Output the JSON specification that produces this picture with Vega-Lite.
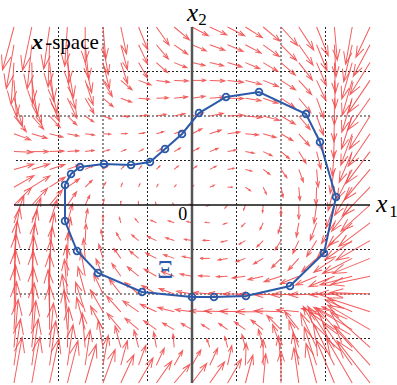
{
"$schema":"https://vega.github.io/schema/vega-lite/v6.json",
"width":356,"height":356,
"autosize":{"type":"none"},
"padding":{"left":14,"top":27,"right":27,"bottom":2},
"background":"white",
"config":{"view":{"stroke":null}},
"datasets":{
"grid":[{"g":-3},{"g":-2},{"g":-1},{"g":1},{"g":2},{"g":3}],
"zero":[{"g":0}],
"curve":[{"o":1,"x":-2.854,"y":-0.36},{"o":2,"x":-2.854,"y":0.449},{"o":3,"x":-2.719,"y":0.697},{"o":4,"x":-2.517,"y":0.854},{"o":5,"x":-1.978,"y":0.921},{"o":6,"x":-1.371,"y":0.899},{"o":7,"x":-0.944,"y":0.966},{"o":8,"x":-0.607,"y":1.258},{"o":9,"x":-0.225,"y":1.596},{"o":10,"x":0.157,"y":2.067},{"o":11,"x":0.764,"y":2.427},{"o":12,"x":1.506,"y":2.539},{"o":13,"x":2.562,"y":2.045},{"o":14,"x":2.876,"y":1.416},{"o":15,"x":3.236,"y":0.18},{"o":16,"x":2.966,"y":-1.079},{"o":17,"x":2.202,"y":-1.82},{"o":18,"x":1.213,"y":-2.045},{"o":19,"x":0.494,"y":-2.067},{"o":20,"x":0,"y":-2.067},{"o":21,"x":-1.124,"y":-1.955},{"o":22,"x":-2.112,"y":-1.528},{"o":23,"x":-2.584,"y":-1.034}],
"field":[
{"x":-4,"y":4,"d":195,"m":1.0},{"x":-3.6,"y":4,"d":192,"m":1.0},{"x":-3.2,"y":4,"d":188,"m":0.95},{"x":-2.8,"y":4,"d":184,"m":0.88},{"x":-2.4,"y":4,"d":180,"m":0.8},{"x":-2,"y":4,"d":175,"m":0.72},{"x":-1.6,"y":4,"d":168,"m":0.62},{"x":-1.2,"y":4,"d":158,"m":0.55},{"x":-0.8,"y":4,"d":145,"m":0.5},{"x":-0.4,"y":4,"d":130,"m":0.45},{"x":0,"y":4,"d":118,"m":0.42},{"x":0.4,"y":4,"d":115,"m":0.42},{"x":0.8,"y":4,"d":117,"m":0.43},{"x":1.2,"y":4,"d":122,"m":0.45},{"x":1.6,"y":4,"d":130,"m":0.5},{"x":2,"y":4,"d":138,"m":0.56},{"x":2.4,"y":4,"d":147,"m":0.62},{"x":2.8,"y":4,"d":158,"m":0.7},{"x":3.2,"y":4,"d":175,"m":0.75},{"x":3.6,"y":4,"d":190,"m":0.85},{"x":4,"y":4,"d":205,"m":0.75},
{"x":-4,"y":3.6,"d":190,"m":1.0},{"x":-3.6,"y":3.6,"d":186,"m":1.0},{"x":-3.2,"y":3.6,"d":182,"m":0.95},{"x":-2.8,"y":3.6,"d":178,"m":0.87},{"x":-2.4,"y":3.6,"d":174,"m":0.78},{"x":-2,"y":3.6,"d":170,"m":0.68},{"x":-1.6,"y":3.6,"d":165,"m":0.58},{"x":-1.2,"y":3.6,"d":155,"m":0.48},{"x":-0.8,"y":3.6,"d":140,"m":0.42},{"x":-0.4,"y":3.6,"d":125,"m":0.37},{"x":0,"y":3.6,"d":113,"m":0.35},{"x":0.4,"y":3.6,"d":110,"m":0.36},{"x":0.8,"y":3.6,"d":113,"m":0.38},{"x":1.2,"y":3.6,"d":118,"m":0.4},{"x":1.6,"y":3.6,"d":126,"m":0.45},{"x":2,"y":3.6,"d":135,"m":0.5},{"x":2.4,"y":3.6,"d":145,"m":0.56},{"x":2.8,"y":3.6,"d":158,"m":0.63},{"x":3.2,"y":3.6,"d":177,"m":0.72},{"x":3.6,"y":3.6,"d":193,"m":0.85},{"x":4,"y":3.6,"d":208,"m":0.8},
{"x":-4,"y":3.2,"d":184,"m":0.95},{"x":-3.6,"y":3.2,"d":179,"m":0.93},{"x":-3.2,"y":3.2,"d":174,"m":0.88},{"x":-2.8,"y":3.2,"d":170,"m":0.8},{"x":-2.4,"y":3.2,"d":168,"m":0.7},{"x":-2,"y":3.2,"d":166,"m":0.6},{"x":-1.6,"y":3.2,"d":162,"m":0.5},{"x":-1.2,"y":3.2,"d":150,"m":0.4},{"x":-0.8,"y":3.2,"d":132,"m":0.34},{"x":-0.4,"y":3.2,"d":112,"m":0.31},{"x":0,"y":3.2,"d":103,"m":0.3},{"x":0.4,"y":3.2,"d":103,"m":0.32},{"x":0.8,"y":3.2,"d":107,"m":0.34},{"x":1.2,"y":3.2,"d":113,"m":0.35},{"x":1.6,"y":3.2,"d":121,"m":0.38},{"x":2,"y":3.2,"d":131,"m":0.43},{"x":2.4,"y":3.2,"d":142,"m":0.5},{"x":2.8,"y":3.2,"d":157,"m":0.56},{"x":3.2,"y":3.2,"d":178,"m":0.68},{"x":3.6,"y":3.2,"d":196,"m":0.85},{"x":4,"y":3.2,"d":212,"m":0.85},
{"x":-4,"y":2.8,"d":176,"m":0.82},{"x":-3.6,"y":2.8,"d":171,"m":0.8},{"x":-3.2,"y":2.8,"d":167,"m":0.75},{"x":-2.8,"y":2.8,"d":164,"m":0.68},{"x":-2.4,"y":2.8,"d":162,"m":0.58},{"x":-2,"y":2.8,"d":150,"m":0.42},{"x":-1.6,"y":2.8,"d":130,"m":0.33},{"x":-1.2,"y":2.8,"d":110,"m":0.3},{"x":-0.8,"y":2.8,"d":98,"m":0.3},{"x":-0.4,"y":2.8,"d":92,"m":0.32},{"x":0,"y":2.8,"d":90,"m":0.32},{"x":0.4,"y":2.8,"d":92,"m":0.34},{"x":0.8,"y":2.8,"d":97,"m":0.36},{"x":1.2,"y":2.8,"d":104,"m":0.37},{"x":1.6,"y":2.8,"d":112,"m":0.37},{"x":2,"y":2.8,"d":123,"m":0.39},{"x":2.4,"y":2.8,"d":138,"m":0.43},{"x":2.8,"y":2.8,"d":155,"m":0.5},{"x":3.2,"y":2.8,"d":178,"m":0.62},{"x":3.6,"y":2.8,"d":196,"m":0.82},{"x":4,"y":2.8,"d":214,"m":0.88},
{"x":-4,"y":2.4,"d":163,"m":0.65},{"x":-3.6,"y":2.4,"d":159,"m":0.62},{"x":-3.2,"y":2.4,"d":157,"m":0.57},{"x":-2.8,"y":2.4,"d":155,"m":0.5},{"x":-2.4,"y":2.4,"d":150,"m":0.4},{"x":-2,"y":2.4,"d":130,"m":0.3},{"x":-1.6,"y":2.4,"d":110,"m":0.26},{"x":-1.2,"y":2.4,"d":95,"m":0.25},{"x":-0.8,"y":2.4,"d":88,"m":0.27},{"x":-0.4,"y":2.4,"d":84,"m":0.3},{"x":0,"y":2.4,"d":82,"m":0.3},{"x":0.4,"y":2.4,"d":85,"m":0.33},{"x":0.8,"y":2.4,"d":91,"m":0.36},{"x":1.2,"y":2.4,"d":99,"m":0.36},{"x":1.6,"y":2.4,"d":109,"m":0.35},{"x":2,"y":2.4,"d":124,"m":0.37},{"x":2.4,"y":2.4,"d":140,"m":0.42},{"x":2.8,"y":2.4,"d":160,"m":0.48},{"x":3.2,"y":2.4,"d":180,"m":0.6},{"x":3.6,"y":2.4,"d":197,"m":0.8},{"x":4,"y":2.4,"d":215,"m":0.88},
{"x":-4,"y":2,"d":142,"m":0.45},{"x":-3.6,"y":2,"d":138,"m":0.4},{"x":-3.2,"y":2,"d":137,"m":0.35},{"x":-2.8,"y":2,"d":134,"m":0.29},{"x":-2.4,"y":2,"d":125,"m":0.23},{"x":-2,"y":2,"d":110,"m":0.2},{"x":-1.6,"y":2,"d":95,"m":0.19},{"x":-1.2,"y":2,"d":85,"m":0.2},{"x":-0.8,"y":2,"d":80,"m":0.22},{"x":-0.4,"y":2,"d":77,"m":0.25},{"x":0,"y":2,"d":75,"m":0.27},{"x":0.4,"y":2,"d":79,"m":0.31},{"x":0.8,"y":2,"d":87,"m":0.36},{"x":1.2,"y":2,"d":95,"m":0.38},{"x":1.6,"y":2,"d":105,"m":0.38},{"x":2,"y":2,"d":120,"m":0.37},{"x":2.4,"y":2,"d":140,"m":0.4},{"x":2.8,"y":2,"d":160,"m":0.46},{"x":3.2,"y":2,"d":181,"m":0.58},{"x":3.6,"y":2,"d":198,"m":0.78},{"x":4,"y":2,"d":212,"m":0.88},
{"x":-4,"y":1.6,"d":110,"m":0.4},{"x":-3.6,"y":1.6,"d":106,"m":0.36},{"x":-3.2,"y":1.6,"d":104,"m":0.31},{"x":-2.8,"y":1.6,"d":101,"m":0.26},{"x":-2.4,"y":1.6,"d":98,"m":0.21},{"x":-2,"y":1.6,"d":93,"m":0.17},{"x":-1.6,"y":1.6,"d":87,"m":0.14},{"x":-1.2,"y":1.6,"d":80,"m":0.14},{"x":-0.8,"y":1.6,"d":74,"m":0.17},{"x":-0.4,"y":1.6,"d":68,"m":0.21},{"x":0,"y":1.6,"d":63,"m":0.25},{"x":0.4,"y":1.6,"d":72,"m":0.27},{"x":0.8,"y":1.6,"d":82,"m":0.28},{"x":1.2,"y":1.6,"d":95,"m":0.3},{"x":1.6,"y":1.6,"d":106,"m":0.3},{"x":2,"y":1.6,"d":120,"m":0.31},{"x":2.4,"y":1.6,"d":138,"m":0.36},{"x":2.8,"y":1.6,"d":160,"m":0.42},{"x":3.2,"y":1.6,"d":182,"m":0.55},{"x":3.6,"y":1.6,"d":200,"m":0.75},{"x":4,"y":1.6,"d":214,"m":0.88},
{"x":-4,"y":1.2,"d":92,"m":0.42},{"x":-3.6,"y":1.2,"d":90,"m":0.38},{"x":-3.2,"y":1.2,"d":88,"m":0.32},{"x":-2.8,"y":1.2,"d":86,"m":0.26},{"x":-2.4,"y":1.2,"d":82,"m":0.2},{"x":-2,"y":1.2,"d":75,"m":0.15},{"x":-1.6,"y":1.2,"d":68,"m":0.12},{"x":-1.2,"y":1.2,"d":62,"m":0.12},{"x":-0.8,"y":1.2,"d":60,"m":0.14},{"x":-0.4,"y":1.2,"d":60,"m":0.16},{"x":0,"y":1.2,"d":63,"m":0.18},{"x":0.4,"y":1.2,"d":68,"m":0.2},{"x":0.8,"y":1.2,"d":79,"m":0.2},{"x":1.2,"y":1.2,"d":100,"m":0.2},{"x":1.6,"y":1.2,"d":115,"m":0.22},{"x":2,"y":1.2,"d":130,"m":0.25},{"x":2.4,"y":1.2,"d":148,"m":0.31},{"x":2.8,"y":1.2,"d":166,"m":0.4},{"x":3.2,"y":1.2,"d":185,"m":0.55},{"x":3.6,"y":1.2,"d":203,"m":0.75},{"x":4,"y":1.2,"d":217,"m":0.9},
{"x":-4,"y":0.8,"d":75,"m":0.46},{"x":-3.6,"y":0.8,"d":73,"m":0.42},{"x":-3.2,"y":0.8,"d":72,"m":0.36},{"x":-2.8,"y":0.8,"d":70,"m":0.29},{"x":-2.4,"y":0.8,"d":65,"m":0.21},{"x":-2,"y":0.8,"d":55,"m":0.14},{"x":-1.6,"y":0.8,"d":45,"m":0.1},{"x":-1.2,"y":0.8,"d":40,"m":0.1},{"x":-0.8,"y":0.8,"d":45,"m":0.11},{"x":-0.4,"y":0.8,"d":50,"m":0.12},{"x":0,"y":0.8,"d":55,"m":0.13},{"x":0.4,"y":0.8,"d":63,"m":0.16},{"x":0.8,"y":0.8,"d":80,"m":0.15},{"x":1.2,"y":0.8,"d":105,"m":0.15},{"x":1.6,"y":0.8,"d":127,"m":0.19},{"x":2,"y":0.8,"d":145,"m":0.23},{"x":2.4,"y":0.8,"d":160,"m":0.3},{"x":2.8,"y":0.8,"d":175,"m":0.4},{"x":3.2,"y":0.8,"d":190,"m":0.55},{"x":3.6,"y":0.8,"d":207,"m":0.75},{"x":4,"y":0.8,"d":220,"m":0.9},
{"x":-4,"y":0.4,"d":60,"m":0.52},{"x":-3.6,"y":0.4,"d":58,"m":0.48},{"x":-3.2,"y":0.4,"d":57,"m":0.42},{"x":-2.8,"y":0.4,"d":55,"m":0.33},{"x":-2.4,"y":0.4,"d":45,"m":0.22},{"x":-2,"y":0.4,"d":30,"m":0.12},{"x":-1.6,"y":0.4,"d":20,"m":0.09},{"x":-1.2,"y":0.4,"d":20,"m":0.08},{"x":-0.8,"y":0.4,"d":30,"m":0.07},{"x":-0.4,"y":0.4,"d":40,"m":0.06},{"x":0,"y":0.4,"d":45,"m":0.05},{"x":0.4,"y":0.4,"d":65,"m":0.11},{"x":0.8,"y":0.4,"d":90,"m":0.11},{"x":1.2,"y":0.4,"d":125,"m":0.14},{"x":1.6,"y":0.4,"d":155,"m":0.17},{"x":2,"y":0.4,"d":168,"m":0.23},{"x":2.4,"y":0.4,"d":175,"m":0.3},{"x":2.8,"y":0.4,"d":182,"m":0.4},{"x":3.2,"y":0.4,"d":195,"m":0.55},{"x":3.6,"y":0.4,"d":212,"m":0.75},{"x":4,"y":0.4,"d":224,"m":0.9},
{"x":-4,"y":0,"d":45,"m":0.56},{"x":-3.6,"y":0,"d":43,"m":0.52},{"x":-3.2,"y":0,"d":40,"m":0.45},{"x":-2.8,"y":0,"d":35,"m":0.36},{"x":-2.4,"y":0,"d":25,"m":0.24},{"x":-2,"y":0,"d":10,"m":0.13},{"x":-1.6,"y":0,"d":0,"m":0.09},{"x":-1.2,"y":0,"d":355,"m":0.07},{"x":-0.8,"y":0,"d":340,"m":0.06},{"x":-0.4,"y":0,"d":320,"m":0.05},{"x":0,"y":0,"d":290,"m":0.05},{"x":0.4,"y":0,"d":250,"m":0.07},{"x":0.8,"y":0,"d":220,"m":0.09},{"x":1.2,"y":0,"d":200,"m":0.12},{"x":1.6,"y":0,"d":185,"m":0.17},{"x":2,"y":0,"d":180,"m":0.24},{"x":2.4,"y":0,"d":180,"m":0.32},{"x":2.8,"y":0,"d":188,"m":0.42},{"x":3.2,"y":0,"d":200,"m":0.55},{"x":3.6,"y":0,"d":218,"m":0.75},{"x":4,"y":0,"d":228,"m":0.88},
{"x":-4,"y":-0.4,"d":20,"m":0.65},{"x":-3.6,"y":-0.4,"d":20,"m":0.6},{"x":-3.2,"y":-0.4,"d":18,"m":0.55},{"x":-2.8,"y":-0.4,"d":15,"m":0.45},{"x":-2.4,"y":-0.4,"d":10,"m":0.32},{"x":-2,"y":-0.4,"d":0,"m":0.18},{"x":-1.6,"y":-0.4,"d":345,"m":0.12},{"x":-1.2,"y":-0.4,"d":320,"m":0.12},{"x":-0.8,"y":-0.4,"d":295,"m":0.14},{"x":-0.4,"y":-0.4,"d":290,"m":0.14},{"x":0,"y":-0.4,"d":285,"m":0.12},{"x":0.4,"y":-0.4,"d":275,"m":0.1},{"x":0.8,"y":-0.4,"d":250,"m":0.1},{"x":1.2,"y":-0.4,"d":225,"m":0.12},{"x":1.6,"y":-0.4,"d":205,"m":0.17},{"x":2,"y":-0.4,"d":195,"m":0.24},{"x":2.4,"y":-0.4,"d":190,"m":0.32},{"x":2.8,"y":-0.4,"d":200,"m":0.42},{"x":3.2,"y":-0.4,"d":212,"m":0.55},{"x":3.6,"y":-0.4,"d":226,"m":0.75},{"x":4,"y":-0.4,"d":233,"m":0.88},
{"x":-4,"y":-0.8,"d":10,"m":0.75},{"x":-3.6,"y":-0.8,"d":10,"m":0.7},{"x":-3.2,"y":-0.8,"d":10,"m":0.63},{"x":-2.8,"y":-0.8,"d":8,"m":0.52},{"x":-2.4,"y":-0.8,"d":3,"m":0.38},{"x":-2,"y":-0.8,"d":350,"m":0.25},{"x":-1.6,"y":-0.8,"d":330,"m":0.2},{"x":-1.2,"y":-0.8,"d":310,"m":0.2},{"x":-0.8,"y":-0.8,"d":295,"m":0.22},{"x":-0.4,"y":-0.8,"d":288,"m":0.2},{"x":0,"y":-0.8,"d":280,"m":0.17},{"x":0.4,"y":-0.8,"d":272,"m":0.15},{"x":0.8,"y":-0.8,"d":258,"m":0.15},{"x":1.2,"y":-0.8,"d":240,"m":0.16},{"x":1.6,"y":-0.8,"d":225,"m":0.2},{"x":2,"y":-0.8,"d":212,"m":0.25},{"x":2.4,"y":-0.8,"d":205,"m":0.32},{"x":2.8,"y":-0.8,"d":212,"m":0.42},{"x":3.2,"y":-0.8,"d":225,"m":0.55},{"x":3.6,"y":-0.8,"d":235,"m":0.75},{"x":4,"y":-0.8,"d":240,"m":0.88},
{"x":-4,"y":-1.2,"d":5,"m":0.85},{"x":-3.6,"y":-1.2,"d":5,"m":0.8},{"x":-3.2,"y":-1.2,"d":5,"m":0.72},{"x":-2.8,"y":-1.2,"d":2,"m":0.6},{"x":-2.4,"y":-1.2,"d":355,"m":0.45},{"x":-2,"y":-1.2,"d":343,"m":0.33},{"x":-1.6,"y":-1.2,"d":325,"m":0.27},{"x":-1.2,"y":-1.2,"d":310,"m":0.26},{"x":-0.8,"y":-1.2,"d":297,"m":0.27},{"x":-0.4,"y":-1.2,"d":290,"m":0.25},{"x":0,"y":-1.2,"d":282,"m":0.22},{"x":0.4,"y":-1.2,"d":270,"m":0.22},{"x":0.8,"y":-1.2,"d":260,"m":0.22},{"x":1.2,"y":-1.2,"d":250,"m":0.22},{"x":1.6,"y":-1.2,"d":240,"m":0.25},{"x":2,"y":-1.2,"d":225,"m":0.3},{"x":2.4,"y":-1.2,"d":222,"m":0.36},{"x":2.8,"y":-1.2,"d":228,"m":0.45},{"x":3.2,"y":-1.2,"d":236,"m":0.56},{"x":3.6,"y":-1.2,"d":243,"m":0.75},{"x":4,"y":-1.2,"d":248,"m":0.9},
{"x":-4,"y":-1.6,"d":3,"m":0.95},{"x":-3.6,"y":-1.6,"d":3,"m":0.9},{"x":-3.2,"y":-1.6,"d":2,"m":0.82},{"x":-2.8,"y":-1.6,"d":358,"m":0.7},{"x":-2.4,"y":-1.6,"d":350,"m":0.55},{"x":-2,"y":-1.6,"d":338,"m":0.42},{"x":-1.6,"y":-1.6,"d":325,"m":0.35},{"x":-1.2,"y":-1.6,"d":310,"m":0.33},{"x":-0.8,"y":-1.6,"d":300,"m":0.32},{"x":-0.4,"y":-1.6,"d":290,"m":0.3},{"x":0,"y":-1.6,"d":280,"m":0.27},{"x":0.4,"y":-1.6,"d":272,"m":0.25},{"x":0.8,"y":-1.6,"d":267,"m":0.25},{"x":1.2,"y":-1.6,"d":262,"m":0.3},{"x":1.6,"y":-1.6,"d":257,"m":0.35},{"x":2,"y":-1.6,"d":252,"m":0.4},{"x":2.4,"y":-1.6,"d":248,"m":0.45},{"x":2.8,"y":-1.6,"d":247,"m":0.52},{"x":3.2,"y":-1.6,"d":248,"m":0.62},{"x":3.6,"y":-1.6,"d":255,"m":0.75},{"x":4,"y":-1.6,"d":258,"m":0.9},
{"x":-4,"y":-2,"d":2,"m":1.0},{"x":-3.6,"y":-2,"d":2,"m":0.97},{"x":-3.2,"y":-2,"d":0,"m":0.9},{"x":-2.8,"y":-2,"d":355,"m":0.78},{"x":-2.4,"y":-2,"d":345,"m":0.63},{"x":-2,"y":-2,"d":335,"m":0.5},{"x":-1.6,"y":-2,"d":322,"m":0.43},{"x":-1.2,"y":-2,"d":310,"m":0.4},{"x":-0.8,"y":-2,"d":300,"m":0.38},{"x":-0.4,"y":-2,"d":290,"m":0.36},{"x":0,"y":-2,"d":280,"m":0.35},{"x":0.4,"y":-2,"d":275,"m":0.37},{"x":0.8,"y":-2,"d":272,"m":0.42},{"x":1.2,"y":-2,"d":270,"m":0.5},{"x":1.6,"y":-2,"d":268,"m":0.57},{"x":2,"y":-2,"d":268,"m":0.6},{"x":2.4,"y":-2,"d":268,"m":0.62},{"x":2.8,"y":-2,"d":268,"m":0.62},{"x":3.2,"y":-2,"d":268,"m":0.55},{"x":3.6,"y":-2,"d":270,"m":0.78},{"x":4,"y":-2,"d":272,"m":0.9},
{"x":-4,"y":-2.4,"d":2,"m":1.05},{"x":-3.6,"y":-2.4,"d":2,"m":1.0},{"x":-3.2,"y":-2.4,"d":358,"m":0.95},{"x":-2.8,"y":-2.4,"d":352,"m":0.85},{"x":-2.4,"y":-2.4,"d":342,"m":0.7},{"x":-2,"y":-2.4,"d":330,"m":0.57},{"x":-1.6,"y":-2.4,"d":318,"m":0.48},{"x":-1.2,"y":-2.4,"d":305,"m":0.43},{"x":-0.8,"y":-2.4,"d":295,"m":0.4},{"x":-0.4,"y":-2.4,"d":285,"m":0.38},{"x":0,"y":-2.4,"d":278,"m":0.38},{"x":0.4,"y":-2.4,"d":273,"m":0.45},{"x":0.8,"y":-2.4,"d":272,"m":0.52},{"x":1.2,"y":-2.4,"d":271,"m":0.58},{"x":1.6,"y":-2.4,"d":270,"m":0.62},{"x":2,"y":-2.4,"d":272,"m":0.6},{"x":2.4,"y":-2.4,"d":275,"m":0.5},{"x":2.8,"y":-2.4,"d":282,"m":0.35},{"x":3.2,"y":-2.4,"d":292,"m":0.3},{"x":3.6,"y":-2.4,"d":294,"m":0.66},{"x":4,"y":-2.4,"d":288,"m":1.0},
{"x":-4,"y":-2.8,"d":3,"m":1.08},{"x":-3.6,"y":-2.8,"d":3,"m":1.05},{"x":-3.2,"y":-2.8,"d":0,"m":1.0},{"x":-2.8,"y":-2.8,"d":355,"m":0.9},{"x":-2.4,"y":-2.8,"d":345,"m":0.75},{"x":-2,"y":-2.8,"d":332,"m":0.6},{"x":-1.6,"y":-2.8,"d":320,"m":0.48},{"x":-1.2,"y":-2.8,"d":310,"m":0.4},{"x":-0.8,"y":-2.8,"d":305,"m":0.35},{"x":-0.4,"y":-2.8,"d":300,"m":0.3},{"x":0,"y":-2.8,"d":300,"m":0.28},{"x":0.4,"y":-2.8,"d":303,"m":0.22},{"x":0.8,"y":-2.8,"d":305,"m":0.24},{"x":1.2,"y":-2.8,"d":305,"m":0.3},{"x":1.6,"y":-2.8,"d":308,"m":0.35},{"x":2,"y":-2.8,"d":315,"m":0.45},{"x":2.4,"y":-2.8,"d":322,"m":0.52},{"x":2.8,"y":-2.8,"d":330,"m":0.6},{"x":3.2,"y":-2.8,"d":305,"m":0.7},{"x":3.6,"y":-2.8,"d":300,"m":1.0},{"x":4,"y":-2.8,"d":300,"m":1.1},
{"x":-4,"y":-3.2,"d":5,"m":1.08},{"x":-3.6,"y":-3.2,"d":5,"m":1.05},{"x":-3.2,"y":-3.2,"d":5,"m":1.0},{"x":-2.8,"y":-3.2,"d":2,"m":0.9},{"x":-2.4,"y":-3.2,"d":355,"m":0.78},{"x":-2,"y":-3.2,"d":350,"m":0.62},{"x":-1.6,"y":-3.2,"d":345,"m":0.5},{"x":-1.2,"y":-3.2,"d":345,"m":0.4},{"x":-0.8,"y":-3.2,"d":350,"m":0.35},{"x":-0.4,"y":-3.2,"d":355,"m":0.3},{"x":0,"y":-3.2,"d":0,"m":0.25},{"x":0.4,"y":-3.2,"d":340,"m":0.2},{"x":0.8,"y":-3.2,"d":345,"m":0.25},{"x":1.2,"y":-3.2,"d":345,"m":0.3},{"x":1.6,"y":-3.2,"d":345,"m":0.42},{"x":2,"y":-3.2,"d":340,"m":0.55},{"x":2.4,"y":-3.2,"d":340,"m":0.65},{"x":2.8,"y":-3.2,"d":335,"m":0.85},{"x":3.2,"y":-3.2,"d":327,"m":1.1},{"x":3.6,"y":-3.2,"d":318,"m":1.2},{"x":4,"y":-3.2,"d":312,"m":1.2},
{"x":-4,"y":-3.6,"d":8,"m":1.05},{"x":-3.6,"y":-3.6,"d":8,"m":1.05},{"x":-3.2,"y":-3.6,"d":8,"m":1.0},{"x":-2.8,"y":-3.6,"d":8,"m":0.92},{"x":-2.4,"y":-3.6,"d":8,"m":0.8},{"x":-2,"y":-3.6,"d":10,"m":0.68},{"x":-1.6,"y":-3.6,"d":15,"m":0.57},{"x":-1.2,"y":-3.6,"d":20,"m":0.48},{"x":-0.8,"y":-3.6,"d":25,"m":0.42},{"x":-0.4,"y":-3.6,"d":30,"m":0.38},{"x":0,"y":-3.6,"d":30,"m":0.4},{"x":0.4,"y":-3.6,"d":25,"m":0.42},{"x":0.8,"y":-3.6,"d":12,"m":0.45},{"x":1.2,"y":-3.6,"d":2,"m":0.5},{"x":1.6,"y":-3.6,"d":0,"m":0.58},{"x":2,"y":-3.6,"d":355,"m":0.66},{"x":2.4,"y":-3.6,"d":350,"m":0.75},{"x":2.8,"y":-3.6,"d":342,"m":0.9},{"x":3.2,"y":-3.6,"d":333,"m":1.05},{"x":3.6,"y":-3.6,"d":325,"m":1.15},{"x":4,"y":-3.6,"d":318,"m":1.2},
{"x":-4,"y":-4,"d":10,"m":1.05},{"x":-3.6,"y":-4,"d":10,"m":1.05},{"x":-3.2,"y":-4,"d":12,"m":1.02},{"x":-2.8,"y":-4,"d":14,"m":0.98},{"x":-2.4,"y":-4,"d":16,"m":0.9},{"x":-2,"y":-4,"d":20,"m":0.8},{"x":-1.6,"y":-4,"d":25,"m":0.7},{"x":-1.2,"y":-4,"d":30,"m":0.65},{"x":-0.8,"y":-4,"d":35,"m":0.6},{"x":-0.4,"y":-4,"d":40,"m":0.55},{"x":0,"y":-4,"d":37,"m":0.55},{"x":0.4,"y":-4,"d":35,"m":0.58},{"x":0.8,"y":-4,"d":30,"m":0.62},{"x":1.2,"y":-4,"d":15,"m":0.65},{"x":1.6,"y":-4,"d":5,"m":0.66},{"x":2,"y":-4,"d":0,"m":0.72},{"x":2.4,"y":-4,"d":352,"m":0.8},{"x":2.8,"y":-4,"d":345,"m":0.92},{"x":3.2,"y":-4,"d":337,"m":1.05},{"x":3.6,"y":-4,"d":330,"m":1.15},{"x":4,"y":-4,"d":322,"m":1.2}
]},
"layer":[
{"data":{"name":"grid"},"mark":{"type":"rule","color":"#222","strokeWidth":1,"strokeDash":[2,2]},
 "encoding":{"x":{"field":"g","type":"quantitative","scale":{"domain":[-4,4],"nice":false,"zero":false},"axis":null}}},
{"data":{"name":"grid"},"mark":{"type":"rule","color":"#222","strokeWidth":1,"strokeDash":[2,2]},
 "encoding":{"y":{"field":"g","type":"quantitative","scale":{"domain":[-4,4],"nice":false,"zero":false},"axis":null}}},
{"data":{"name":"field"},"mark":{"type":"point","shape":"M0,0L0,-2M-0.22,-1.34L0,-2L0.22,-1.34","filled":false,"color":"#f24848","strokeWidth":1,"opacity":0.88},
 "encoding":{"x":{"field":"x","type":"quantitative","scale":{"domain":[-4,4],"nice":false,"zero":false},"axis":null},
  "y":{"field":"y","type":"quantitative","scale":{"domain":[-4,4],"nice":false,"zero":false},"axis":null},
  "angle":{"field":"d","type":"quantitative","scale":null},
  "size":{"field":"m","type":"quantitative","scale":{"type":"pow","exponent":2,"domain":[0,1],"range":[0,1980]},"legend":null}}},
{"data":{"name":"zero"},"mark":{"type":"rule","color":"#555","strokeWidth":2.5},
 "encoding":{"x":{"field":"g","type":"quantitative","scale":{"domain":[-4,4],"nice":false,"zero":false},"axis":null}}},
{"data":{"name":"zero"},"mark":{"type":"rule","color":"#111","strokeWidth":1.3},
 "encoding":{"y":{"field":"g","type":"quantitative","scale":{"domain":[-4,4],"nice":false,"zero":false},"axis":null}}},
{"data":{"name":"curve"},"mark":{"type":"line","color":"#2c5aa8","strokeWidth":2,"interpolate":"linear-closed"},
 "encoding":{"x":{"field":"x","type":"quantitative","scale":{"domain":[-4,4],"nice":false,"zero":false},"axis":null},
  "y":{"field":"y","type":"quantitative","scale":{"domain":[-4,4],"nice":false,"zero":false},"axis":null},
  "order":{"field":"o","type":"quantitative"}}},
{"data":{"name":"curve"},"mark":{"type":"point","shape":"circle","filled":false,"color":"#2c5aa8","strokeWidth":1.8,"size":45,"opacity":1},
 "encoding":{"x":{"field":"x","type":"quantitative"},"y":{"field":"y","type":"quantitative"}}},
{"data":{"values":[{"x":-3.596,"y":3.5,"t":"x"}]},"mark":{"type":"text","font":"Liberation Serif","fontSize":22,"fontStyle":"italic","fontWeight":"bold","align":"left","baseline":"alphabetic","color":"black"},
 "encoding":{"x":{"field":"x","type":"quantitative"},"y":{"field":"y","type":"quantitative"},"text":{"field":"t"}}},
{"data":{"values":[{"x":-3.3,"y":3.5,"t":"-space"}]},"mark":{"type":"text","font":"Liberation Serif","fontSize":21,"align":"left","baseline":"alphabetic","color":"black"},
 "encoding":{"x":{"field":"x","type":"quantitative"},"y":{"field":"y","type":"quantitative"},"text":{"field":"t"}}},
{"data":{"values":[{"x":-0.11,"y":4.14,"t":"x"},{"x":4.14,"y":-0.16,"t":"x"}]},"mark":{"type":"text","font":"Liberation Serif","fontSize":25,"fontStyle":"italic","align":"left","baseline":"alphabetic","color":"black"},
 "encoding":{"x":{"field":"x","type":"quantitative"},"y":{"field":"y","type":"quantitative"},"text":{"field":"t"}}},
{"data":{"values":[{"x":0.14,"y":4.04,"t":"2"},{"x":4.43,"y":-0.27,"t":"1"}]},"mark":{"type":"text","font":"Liberation Serif","fontSize":17,"align":"left","baseline":"alphabetic","color":"black"},
 "encoding":{"x":{"field":"x","type":"quantitative"},"y":{"field":"y","type":"quantitative"},"text":{"field":"t"}}},
{"data":{"values":[{"x":-0.21,"y":-0.34,"t":"0"}]},"mark":{"type":"text","font":"Liberation Serif","fontSize":18,"align":"center","baseline":"alphabetic","color":"black"},
 "encoding":{"x":{"field":"x","type":"quantitative"},"y":{"field":"y","type":"quantitative"},"text":{"field":"t"}}},
{"data":{"values":[{"x":-0.6,"y":-1.64,"t":"Ξ"}]},"mark":{"type":"text","font":"Liberation Serif","fontSize":25,"align":"center","baseline":"alphabetic","color":"#2c5aa8"},
 "encoding":{"x":{"field":"x","type":"quantitative"},"y":{"field":"y","type":"quantitative"},"text":{"field":"t"}}}
]
}
